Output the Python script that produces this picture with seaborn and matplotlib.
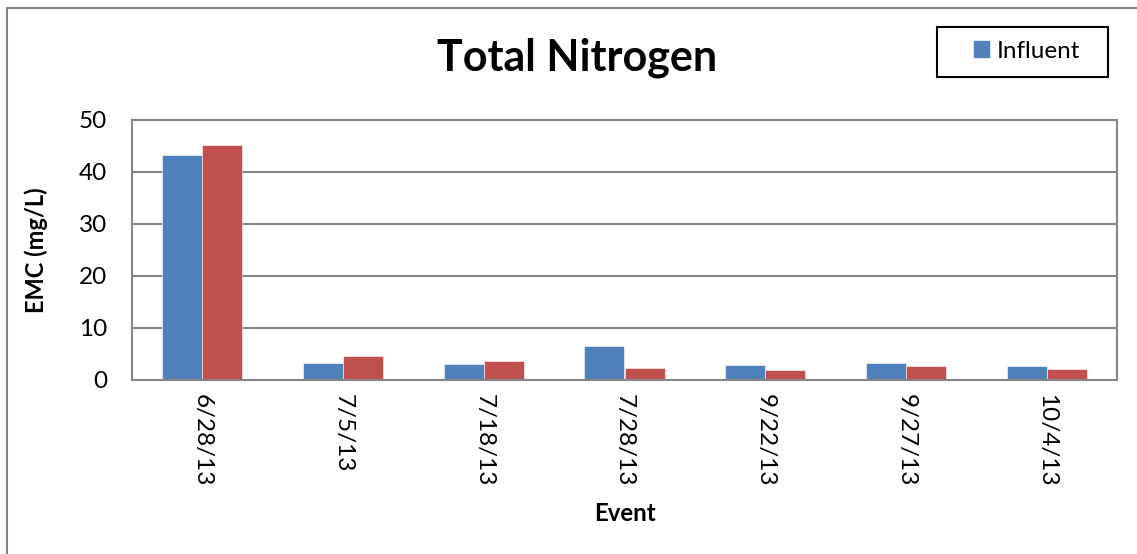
import matplotlib
matplotlib.use("Agg")
import matplotlib.pyplot as plt
import matplotlib.patches as mpatches
import seaborn as sns
import pandas as pd

events = ["6/28/13", "7/5/13", "7/18/13", "7/28/13", "9/22/13", "9/27/13", "10/4/13"]
influent = [43.3, 3.2, 3.1, 6.5, 2.9, 3.3, 2.6]
effluent = [45.2, 4.6, 3.7, 2.4, 2.0, 2.7, 2.05]
series_names = ["Influent", "Effluent"]
colors = ["#4F81BD", "#C0504D"]

df = pd.DataFrame({
    "Event": events * 2,
    "EMC": influent + effluent,
    "Series": [series_names[0]] * len(events) + [series_names[1]] * len(events),
})

sns.set_theme(style="white")
plt.rcParams["font.family"] = ["Lato", "DejaVu Sans"]
plt.rcParams["text.color"] = "black"
plt.rcParams["axes.labelcolor"] = "black"

W, H = 1137, 554
fig = plt.figure(figsize=(W / 100, H / 100), dpi=100)
ax = fig.add_axes([132 / W, 1 - 380 / H, (1117 - 132) / W, 260 / H])

sns.barplot(data=df, x="Event", y="EMC", hue="Series", palette=colors,
            width=0.57, saturation=1, ax=ax, legend=False)

for c in ax.containers:
    for p in c:
        p.set_edgecolor("white")
        p.set_linewidth(0.4)

ax.set_ylim(0, 50)
ax.set_yticks(range(0, 51, 10))
ax.set_xlim(-0.5, len(events) - 0.5)
ax.yaxis.grid(True, color="#868686", linewidth=1.5)
ax.set_axisbelow(True)
for s in ax.spines.values():
    s.set_color("#868686")
    s.set_linewidth(1.5)
ax.tick_params(axis="both", length=0, labelsize=17.5, colors="black")
ax.tick_params(axis="y", pad=18)
ax.tick_params(axis="x", pad=10)
plt.setp(ax.get_xticklabels(), rotation=-90, ha="center", va="top")

ax.set_ylabel("EMC (mg/L)", fontsize=17, fontweight="bold", color="black")
ax.yaxis.set_label_coords((48 - 132) / 985, 0.5)
ax.set_xlabel("Event", fontsize=17.3, fontweight="bold", color="black")
ax.xaxis.set_label_coords(0.5, (380 - 502) / 260)

fig.text(577 / W, 1 - 58 / H, "Total Nitrogen", fontsize=31, fontweight="bold",
         ha="center", va="center", color="black")

handle = mpatches.Patch(color=colors[0], label=series_names[0])
leg = fig.legend(handles=[handle], loc="center", bbox_to_anchor=(1027 / W, 1 - 51 / H),
                 frameon=False, fontsize=17.5, handlelength=0.62,
                 handleheight=0.62, handletextpad=0.29, borderpad=0, labelcolor="black")
legbox = mpatches.Rectangle((937 / W, 1 - 77 / H), 171 / W, 50 / H, transform=fig.transFigure,
                            fill=False, edgecolor="black", linewidth=1.5)
fig.add_artist(legbox)

border = mpatches.Rectangle((7 / W, -0.1), 1.2, 1 - 8 / H + 0.1, transform=fig.transFigure,
                            fill=False, edgecolor="#868686", linewidth=1.5)
fig.add_artist(border)

fig.savefig("out.png", dpi=100)
